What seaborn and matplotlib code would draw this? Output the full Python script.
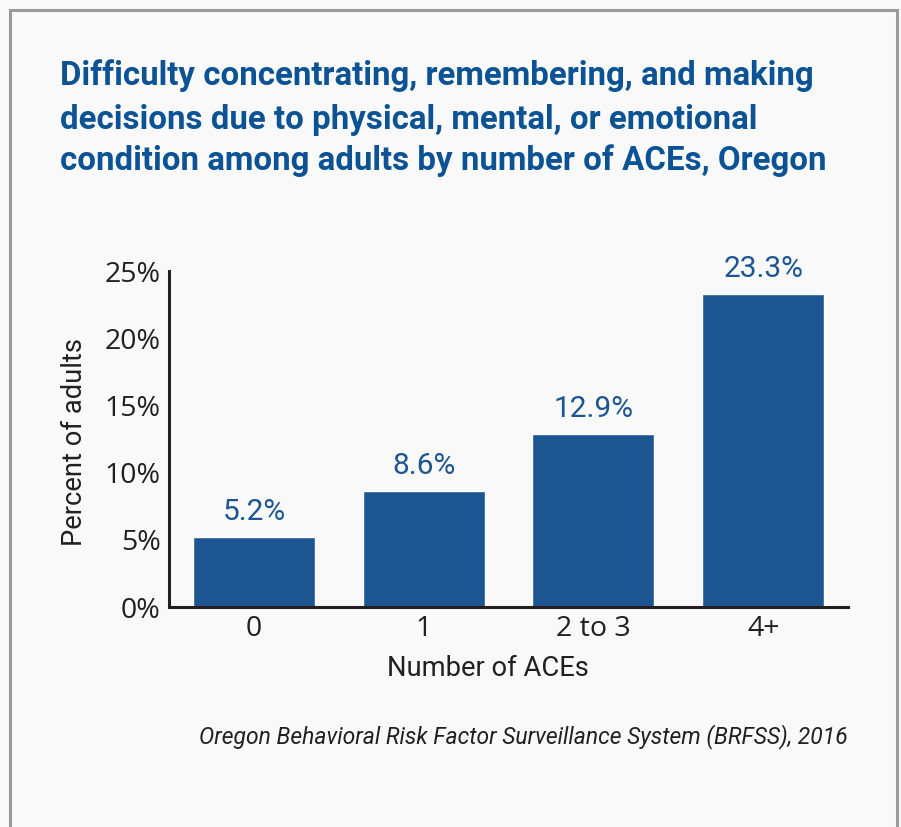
import matplotlib
matplotlib.use("Agg")
import matplotlib.pyplot as plt
from matplotlib import font_manager
from matplotlib.patches import Rectangle
import seaborn as sns
import pandas as pd

categories = ["0", "1", "2 to 3", "4+"]
values = [5.2, 8.6, 12.9, 23.3]
value_labels = ["5.2%", "8.6%", "12.9%", "23.3%"]
y_ticks = [0, 5, 10, 15, 20, 25]
y_tick_labels = ["0%", "5%", "10%", "15%", "20%", "25%"]

title_lines = ["Difficulty concentrating, remembering, and making",
               "decisions due to physical, mental, or emotional",
               "condition among adults by number of ACEs, Oregon"]
source = "Oregon Behavioral Risk Factor Surveillance System (BRFSS), 2016"

names = {f.name for f in font_manager.fontManager.ttflist}
narrow = "Roboto" if "Roboto" in names else "Liberation Sans"
humanist = "Open Sans" if "Open Sans" in names else "DejaVu Sans"

sns.set_theme(style="white")
plt.rcParams["font.family"] = [narrow, "DejaVu Sans"]

df = pd.DataFrame({"aces": categories, "pct": values})

BG = "#f9f9f9"
BAR = "#1c5592"
TITLE_C = "#0b5394"
TXT = "#231f20"
W, H = 901, 827

fig = plt.figure(figsize=(9.01, 8.27), dpi=100)
fig.patch.set_facecolor(BG)
fig.patches.append(Rectangle((10 / W, -0.05), (897 - 10) / W, 1.05 - 10 / H,
                             transform=fig.transFigure, fill=False,
                             edgecolor="#9a9a9a", linewidth=2.2, zorder=0))

ax = fig.add_axes([169 / W, 1 - 607 / H, (848 - 169) / W, (607 - 271) / H])
ax.set_facecolor(BG)

sns.barplot(data=df, x="aces", y="pct", color=BAR, saturation=1, width=0.72, ax=ax)

ax.set_xlim(-0.5, 3.5)
ax.set_ylim(0, 25)
ax.set_yticks(y_ticks)
ax.set_yticklabels(y_tick_labels, family=[humanist, "DejaVu Sans"], fontsize=20.5, color=TXT)
ax.set_xticks(range(len(categories)))
ax.set_xticklabels(categories, family=[humanist, "DejaVu Sans"], fontsize=20.5, color=TXT)
ax.tick_params(axis="both", length=0, pad=6)

for c in ax.containers:
    ax.bar_label(c, labels=value_labels, padding=8, fontsize=21.5, color=BAR,
                 family=[narrow, "DejaVu Sans"])

for s in ["top", "right"]:
    ax.spines[s].set_visible(False)
for s in ["left", "bottom"]:
    ax.spines[s].set_color(TXT)
    ax.spines[s].set_linewidth(2.2)

renderer = fig.canvas.get_renderer()

def fit(t, target, max_size, vertical=False):
    bb = t.get_window_extent(renderer)
    cur = bb.height if vertical else bb.width
    t.set_fontsize(min(max_size, t.get_fontsize() * target / cur))

xl = fig.text(488 / W, 1 - 669 / H, "Number of ACEs", ha="center", va="center",
              fontsize=21, color=TXT, family=[narrow, "DejaVu Sans"])
fit(xl, 202, 24)
yl = fig.text(75 / W, 1 - 442 / H, "Percent of adults", ha="center", va="center",
              rotation=90, fontsize=21, color=TXT, family=[narrow, "DejaVu Sans"])
fit(yl, 208, 24, vertical=True)
ax.set_xlabel("")
ax.set_ylabel("")

baselines = [85, 129, 170]
title_texts = []
for line, yb in zip(title_lines, baselines):
    t = fig.text(60 / W, 1 - yb / H, line, ha="left", va="baseline", fontsize=26,
                 fontweight="bold", color=TITLE_C, family=[narrow, "DejaVu Sans"])
    title_texts.append(t)
w0 = title_texts[0].get_window_extent(renderer).width
size = 26 * 755 / w0
for t in title_texts:
    t.set_fontsize(size)

src = fig.text(848 / W, 1 - 737 / H, source, ha="right", va="center", fontsize=17,
               style="italic", color=TXT, family=[narrow, "DejaVu Sans"])
fit(src, 648, 19)

fig.savefig("out.png", dpi=100, facecolor=BG)
